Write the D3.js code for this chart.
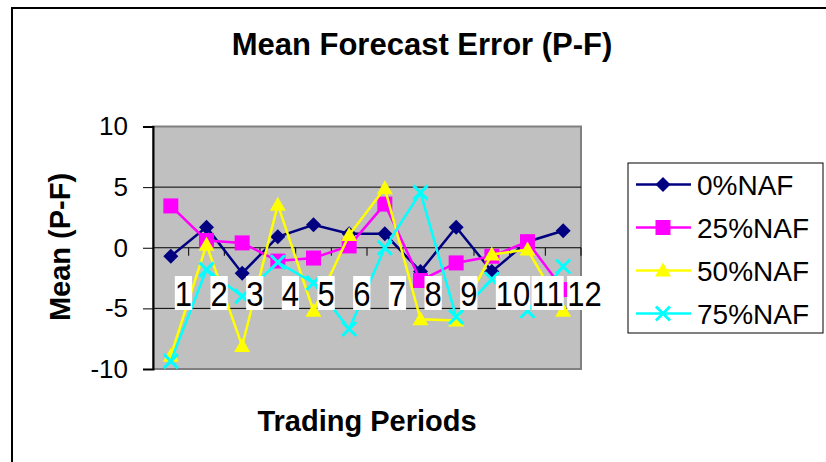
<!DOCTYPE html>
<html>
<head>
<meta charset="utf-8">
<script src="https://cdn.jsdelivr.net/npm/d3@7"></script>
<style>
    body {margin: 0; background: #fff;}
    text {font-family: Arial, "Liberation Sans", sans-serif;}
</style>
</head>
<body>
<svg id="drawingSpace" width="826" height="462"></svg>
<script>
//chart data
var periods = [1, 2, 3, 4, 5, 6, 7, 8, 9, 10, 11, 12];
var naf0 = [-0.7, 1.7, -2.1, 0.9, 1.9, 1.15, 1.15, -1.95, 1.7, -1.95, 0.5, 1.4];
var naf25 = [3.45, 0.6, 0.4, -1.1, -0.85, 0.15, 3.6, -2.7, -1.25, -0.7, 0.5, -3.45];
var naf50 = [-8.9, 0.25, -8.1, 3.55, -5.2, 1.05, 4.9, -5.9, -6.0, -0.55, -0.15, -5.2];
var naf75 = [-9.35, -1.8, -4.0, -1.2, -2.9, -6.7, 0.0, 4.55, -5.7, -2.6, -5.2, -1.55];
var seriesNames = ["0%NAF", "25%NAF", "50%NAF", "75%NAF"];
var yTicks = [10, 5, 0, -5, -10];

//series styles
var colors = ["#000080", "#ff00ff", "#ffff00", "#00ffff"];
var markers = [
    "M0,-7.5L7.5,0L0,7.5L-7.5,0Z",     //diamond
    "M-7.5,-7.5H7.5V7.5H-7.5Z",        //square
    "M0,-8L8,6H-8Z",                   //triangle
    "M-7,-7L7,7M-7,7L7,-7"             //x
];

var series = [naf0, naf25, naf50, naf75].map(function (v, i) {
    return {name: seriesNames[i], color: colors[i], marker: markers[i], values: v};
});

var svg = d3.select("#drawingSpace"),
    width = +svg.attr("width"),
    height = +svg.attr("height"),
    plot = {left: 153, right: 581, top: 126.5, bottom: 369};

//outer chart border
svg.append("rect")
    .attr("x", 12).attr("y", 8)
    .attr("width", width).attr("height", height)
    .attr("fill", "#fff")
    .attr("stroke", "#000")
    .attr("stroke-width", 2);

//scales
var x = d3.scaleBand().domain(periods).range([plot.left, plot.right]);
var y = d3.scaleLinear().domain([-10, 10]).range([plot.bottom, plot.top]);

function cx(d) {
    return x(d) + x.bandwidth() / 2;
}

//plot area background
svg.append("rect")
    .attr("x", plot.left).attr("y", plot.top)
    .attr("width", plot.right - plot.left).attr("height", plot.bottom - plot.top)
    .attr("fill", "#c0c0c0")
    .attr("stroke", "#808080")
    .attr("stroke-width", 2);

//gridlines
svg.append("g").selectAll("line")
    .data(yTicks.filter(function (d) { return d === 5 || d === -5; }))
    .enter().append("line")
    .attr("x1", plot.left).attr("x2", plot.right)
    .attr("y1", function (d) { return y(d); })
    .attr("y2", function (d) { return y(d); })
    .attr("stroke", "#000")
    .attr("stroke-width", 1);

//y axis (plain hyphen for negatives)
var yAxis = svg.append("g")
    .attr("transform", "translate(" + plot.left + ",0)")
    .call(d3.axisLeft(y).tickValues(yTicks).tickSize(10).tickPadding(15)
        .tickFormat(function (d) { return String(d); }));
yAxis.select(".domain").attr("stroke-width", 2);
yAxis.selectAll("text").attr("font-size", 26).attr("fill", "#000");

//x axis line at zero with ticks between categories
svg.append("line")
    .attr("x1", plot.left).attr("x2", plot.right)
    .attr("y1", y(0)).attr("y2", y(0))
    .attr("stroke", "#000").attr("stroke-width", 1.2);
svg.append("g").selectAll("line")
    .data(periods)
    .enter().append("line")
    .attr("x1", function (d) { return x(d) + x.bandwidth(); })
    .attr("x2", function (d) { return x(d) + x.bandwidth(); })
    .attr("y1", y(0)).attr("y2", y(0) + 8)
    .attr("stroke", "#000");

//lines and markers
var line = d3.line()
    .x(function (d, i) { return cx(periods[i]); })
    .y(function (d) { return y(d); });

series.forEach(function (s) {
    var g = svg.append("g");
    g.append("path")
        .attr("d", line(s.values))
        .attr("fill", "none")
        .attr("stroke", s.color)
        .attr("stroke-width", 2.5);
    g.selectAll("path.mark")
        .data(s.values)
        .enter().append("path")
        .attr("class", "mark")
        .attr("d", s.marker)
        .attr("transform", function (d, i) {
            return "translate(" + cx(periods[i]) + "," + y(d) + ")";
        })
        .attr("fill", s.color)
        .attr("stroke", s.color)
        .attr("stroke-width", s.marker.indexOf("Z") < 0 ? 3 : 0);
});

//category labels with white boxes, drawn on top
var labels = svg.append("g").selectAll("g")
    .data(periods)
    .enter().append("g")
    .attr("transform", function (d) {
        return "translate(" + (cx(d) + 4) + ",0)";
    });
labels.append("rect")
    .attr("y", 276).attr("height", 34)
    .attr("fill", "#fff");
labels.append("text")
    .text(function (d) { return d; })
    .attr("transform", "translate(0,306) scale(1,1.13)")
    .attr("font-size", 31)
    .attr("fill", "#000");
labels.each(function () {
    var w = this.querySelector("text").getComputedTextLength();
    d3.select(this).select("rect").attr("width", w);
});

//titles
svg.append("text")
    .attr("x", 422).attr("y", 55)
    .attr("text-anchor", "middle")
    .attr("font-size", 31).attr("font-weight", "bold")
    .text("Mean Forecast Error (P-F)");
svg.append("text")
    .attr("x", 367).attr("y", 431)
    .attr("text-anchor", "middle")
    .attr("font-size", 29).attr("font-weight", "bold")
    .text("Trading Periods");
svg.append("text")
    .attr("transform", "translate(70,247) rotate(-90)")
    .attr("text-anchor", "middle")
    .attr("font-size", 29).attr("font-weight", "bold")
    .text("Mean (P-F)");

//legend
var legend = svg.append("g");
legend.append("rect")
    .attr("x", 628).attr("y", 163)
    .attr("width", 195).attr("height", 170)
    .attr("fill", "#fff")
    .attr("stroke", "#000").attr("stroke-width", 1);
var items = legend.selectAll("g.item")
    .data(series)
    .enter().append("g")
    .attr("class", "item")
    .attr("transform", function (d, i) {
        return "translate(0," + (184.5 + i * 43) + ")";
    });
items.append("line")
    .attr("x1", 636).attr("x2", 691)
    .attr("stroke", function (d) { return d.color; })
    .attr("stroke-width", 2.5);
items.append("path")
    .attr("d", function (d) { return d.marker; })
    .attr("transform", "translate(663,0)")
    .attr("fill", function (d) { return d.color; })
    .attr("stroke", function (d) { return d.color; })
    .attr("stroke-width", function (d) { return d.marker.indexOf("Z") < 0 ? 3 : 0; });
items.append("text")
    .attr("x", 697).attr("dy", "0.36em")
    .attr("font-size", 28)
    .text(function (d) { return d.name; });
</script>
</body>
</html>
